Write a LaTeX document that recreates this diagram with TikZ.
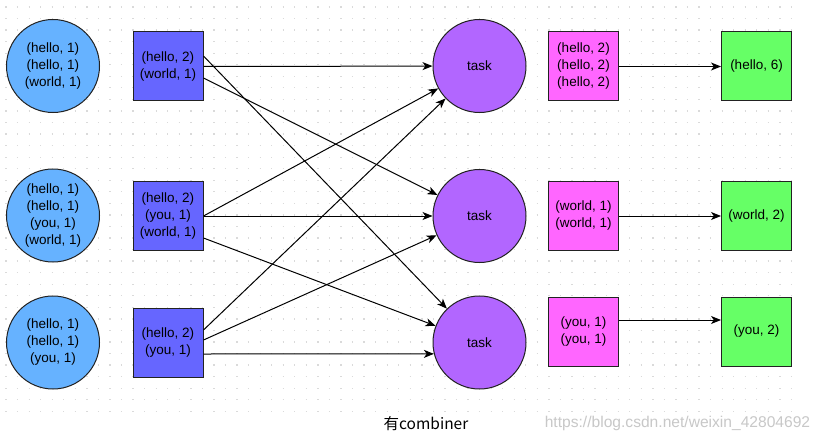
\documentclass[tikz,border=0pt]{standalone}
\usepackage{fontspec}
\setmainfont{Liberation Sans}
\newfontfamily\cjk{Noto Sans CJK SC}
\usetikzlibrary{arrows.meta}
\definecolor{cblue}{HTML}{66B2FF}
\definecolor{sblue}{HTML}{6666FF}
\definecolor{cpurple}{HTML}{B266FF}
\definecolor{smag}{HTML}{FF66FF}
\definecolor{sgreen}{HTML}{66FF66}
\definecolor{gridc}{HTML}{DADADA}
\definecolor{wmark}{HTML}{C8C8C8}
\definecolor{edge}{HTML}{222222}
\tikzset{
  lbl/.style={font=\fontsize{13.5}{17}\selectfont, align=center, text=black},
  circ/.style={lbl, circle, draw=edge, line width=1pt, minimum size=93pt, inner sep=0pt},
  sq/.style={lbl, rectangle, draw=edge, line width=1pt, minimum width=70pt, minimum height=69pt, inner sep=0pt},
  arr/.style={draw=black, line width=1pt, -{Stealth[length=10pt,width=8pt,inset=2.8pt]}}
}
\begin{document}
\begin{tikzpicture}[x=1pt,y=-1pt]
\useasboundingbox (0,0) rectangle (826,441);
\fill[white] (0,0) rectangle (826,441);
\foreach \r in {0,...,35} {
  \draw[gridc, line width=1.3pt, dash pattern=on 1.3pt off 10.25pt] (5.4,{7+\r*11.55}) -- (792.5,{7+\r*11.55});
}
% input circles
\node[circ, fill=cblue] (c1) at (53,66) {(hello, 1)\\(hello, 1)\\(world, 1)};
\node[circ, fill=cblue] (c2) at (53,215.5) {(hello, 1)\\(hello, 1)\\(you, 1)\\(world, 1)};
\node[circ, fill=cblue] (c3) at (53,342.5) {(hello, 1)\\(hello, 1)\\(you, 1)};
% combiner squares
\node[sq, fill=sblue] (b1) at (168,66.5) {(hello, 2)\\(world, 1)};
\node[sq, fill=sblue] (b2) at (168,216) {(hello, 2)\\(you, 1)\\(world, 1)};
\node[sq, fill=sblue] (b3) at (168,342.5) {(hello, 2)\\(you, 1)};
% tasks
\node[circ, fill=cpurple] (t1) at (479.5,66) {task};
\node[circ, fill=cpurple] (t2) at (479.5,216) {task};
\node[circ, fill=cpurple] (t3) at (479.5,342.5) {task};
% grouped
\node[sq, fill=smag] (m1) at (583.5,66.5) {(hello, 2)\\(hello, 2)\\(hello, 2)};
\node[sq, fill=smag] (m2) at (583.5,216) {(world, 1)\\(world, 1)};
\node[sq, fill=smag] (m3) at (583.5,331.5) {(you, 1)\\(you, 1)};
% results
\node[sq, fill=sgreen] (g1) at (756.5,66.5) {(hello, 6)};
\node[sq, fill=sgreen] (g2) at (756.5,216) {(world, 2)};
\node[sq, fill=sgreen] (g3) at (756.5,331.5) {(you, 2)};
% shuffle arrows
\coordinate (s1a) at ([yshift=10.5pt]b1.east);
\coordinate (s1c) at ([yshift=-11.5pt]b1.east);
\coordinate (s2c) at ([yshift=-22pt]b2.east);
\coordinate (s3a) at ([yshift=12.5pt]b3.east);
\coordinate (s3b) at ([yshift=2.5pt]b3.east);
\coordinate (s3c) at ([yshift=-11.5pt]b3.east);
\draw[arr] (b1.east) -- (t1);
\draw[arr] (s1a) -- (t3);
\draw[arr] (s1c) -- (t2);
\draw[arr] (b2.east) -- (t2);
\draw[arr] (b2.east) -- (t1);
\draw[arr] (s2c) -- (t3);
\draw[arr] (s3a) -- (t1);
\draw[arr] (s3b) -- (t2);
\draw[arr] (s3c) -- (t3.194.3);
% reduce arrows
\draw[arr] (m1.east) -- (g1.west);
\draw[arr] (m2.east) -- (g2.west);
\draw[arr] ([yshift=11.5pt]m3.east) -- ([yshift=11.5pt]g3.west);
% caption
\node[font=\cjk\fontsize{15.5}{18}\selectfont, text=black] (cap) at (426,424) {有combiner};
\node[font=\fontsize{15.6}{18}\selectfont, text=wmark] (wm) at (677.5,423) {https://blog.csdn.net/weixin\_42804692};
\end{tikzpicture}
\end{document}
